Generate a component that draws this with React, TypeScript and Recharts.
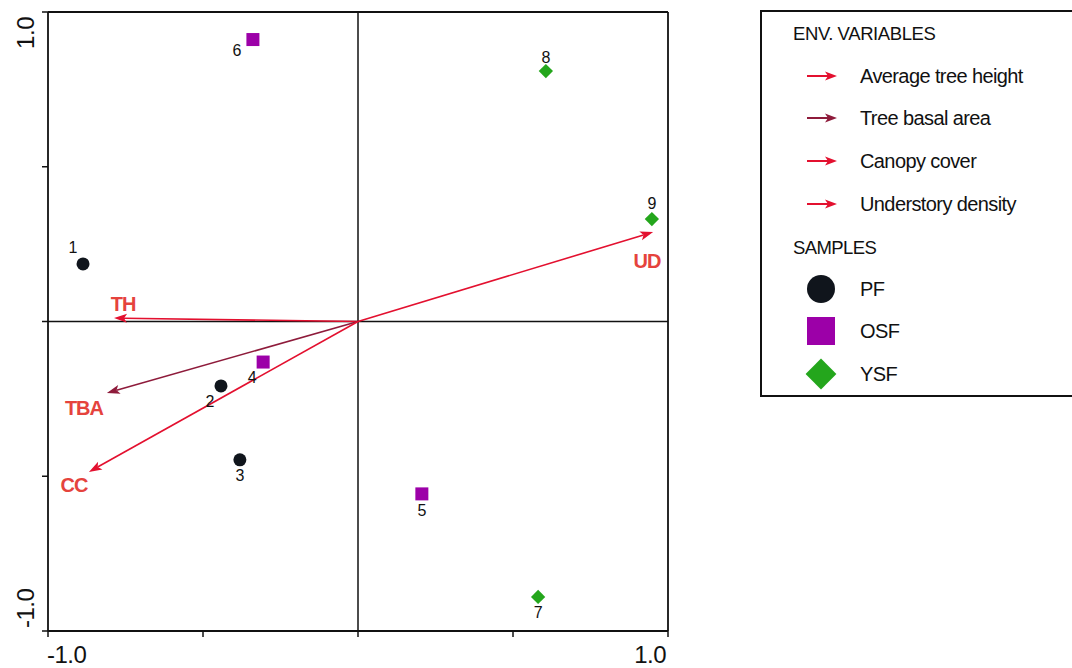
import React from 'react';
import { ScatterChart, Scatter, XAxis, YAxis, ReferenceLine } from 'recharts';

// ---- data ----
const sampleIds = ['1', '2', '3', '4', '5', '6', '7', '8', '9'];
const sampleGroups = ['PF', 'PF', 'PF', 'OSF', 'OSF', 'OSF', 'YSF', 'YSF', 'YSF'];
const sampleAxis1 = [-0.887, -0.442, -0.381, -0.306, 0.206, -0.339, 0.581, 0.606, 0.948];
const sampleAxis2 = [0.186, -0.208, -0.447, -0.131, -0.557, 0.911, -0.89, 0.809, 0.331];

const envCodes = ['TH', 'TBA', 'CC', 'UD'];
const envNames = ['Average tree height', 'Tree basal area', 'Canopy cover', 'Understory density'];
const envAxis1 = [-0.787, -0.81, -0.868, 0.952];
const envAxis2 = [0.011, -0.231, -0.486, 0.289];
const envLabelAxis1 = [-0.758, -0.884, -0.916, 0.932];
const envLabelAxis2 = [0.057, -0.279, -0.528, 0.195];

const groupNames = ['PF', 'OSF', 'YSF'];
const xTicks = [-1, -0.5, 0, 0.5, 1];
const yTicks = [-1, -0.5, 0, 0.5, 1];
const endTickLabels = { '-1': '-1.0', '1': '1.0' } as Record<string, string>;

// ---- styles / layout ----
const FONT = "'Liberation Sans', Arial, Helvetica, sans-serif";
const groupColors: Record<string, string> = { PF: '#10151c', OSF: '#9c00a8', YSF: '#24a61c' };
const envColors = ['#e3102f', '#8e1b3b', '#e3102f', '#e3102f'];
const envLabelColor = '#e5433d';
// sample label offsets (dx, dy of label centre from marker centre, px)
const labelOffsets: Record<string, [number, number]> = {
  '1': [-10, -17], '2': [-11, 15], '3': [0, 15], '4': [-11, 15], '5': [0, 16],
  '6': [-16, 10], '7': [0, 15], '8': [0, -14], '9': [0, -16],
};

const W = 1072;
const H = 668;

function Marker({ group, cx, cy, s }: { group: string; cx: number; cy: number; s: number }) {
  const c = groupColors[group];
  if (group === 'PF') return <circle cx={cx} cy={cy} r={s / 2} fill={c} />;
  if (group === 'OSF') return <rect x={cx - s / 2} y={cy - s / 2} width={s} height={s} fill={c} />;
  const h = s * 0.55;
  return <polygon points={`${cx},${cy - h} ${cx + h},${cy} ${cx},${cy + h} ${cx - h},${cy}`} fill={c} />;
}

function arrowShape(color: string) {
  return (props: any) => {
    const { x1, y1, x2, y2 } = props;
    if ([x1, y1, x2, y2].some((v) => typeof v !== 'number' || isNaN(v))) return <g />;
    const dx = x2 - x1;
    const dy = y2 - y1;
    const len = Math.sqrt(dx * dx + dy * dy) || 1;
    const ux = dx / len;
    const uy = dy / len;
    const hl = 13;
    const hw = 4.5;
    const bx = x2 - ux * hl;
    const by = y2 - uy * hl;
    const pts = `${x2},${y2} ${bx - uy * hw},${by + ux * hw} ${bx + ux * 3},${by + uy * 3} ${bx + uy * hw},${by - ux * hw}`;
    return (
      <g>
        <line x1={x1} y1={y1} x2={bx + ux * 3} y2={by + uy * 3} stroke={color} strokeWidth={1.6} />
        <polygon points={pts} fill={color} />
      </g>
    );
  };
}

function XTick(props: any) {
  const { x, y, payload } = props;
  const key = String(payload.value);
  const label = endTickLabels[key];
  if (!label) return <g />;
  return (
    <text x={payload.value < 0 ? x - 1 : x - 2} y={y + 24} textAnchor={payload.value < 0 ? 'start' : 'end'}
      fontFamily={FONT} fontSize={24} letterSpacing={-0.5} fill="#111">
      {label}
    </text>
  );
}

function YTick(props: any) {
  const { x, y, payload } = props;
  const key = String(payload.value);
  const label = endTickLabels[key];
  if (!label) return <g />;
  const bx = x - 6;
  const by = payload.value > 0 ? y + 5 : y - 3;
  return (
    <text x={bx} y={by} transform={`rotate(-90 ${bx} ${by})`} textAnchor={payload.value > 0 ? 'end' : 'start'}
      fontFamily={FONT} fontSize={24} letterSpacing={-0.5} fill="#111">
      {label}
    </text>
  );
}

function Legend() {
  const left = 761;
  const arrowX1 = 807;
  const arrowX2 = 837;
  const textX = 860;
  const envYs = [76, 118, 161, 204];
  const sampleYs = [289, 331, 374];
  return (
    <svg width={W} height={H} style={{ position: 'absolute', left: 0, top: 0, pointerEvents: 'none' }}>
      <rect x={left} y={11} width={W + 20 - left} height={385} fill="none" stroke="#111" strokeWidth={2} />
      <text x={793} y={40} fontFamily={FONT} fontSize={18.5} letterSpacing={-0.4} fill="#111">ENV. VARIABLES</text>
      {envNames.map((n, i) => {
        const y = envYs[i];
        const c = envColors[i];
        return (
          <g key={n}>
            <line x1={arrowX1} y1={y} x2={arrowX2 - 8} y2={y} stroke={c} strokeWidth={2} />
            <polygon points={`${arrowX2},${y} ${arrowX2 - 12},${y - 4.5} ${arrowX2 - 9},${y} ${arrowX2 - 12},${y + 4.5}`} fill={c} />
            <text x={textX} y={y + 7} fontFamily={FONT} fontSize={20} letterSpacing={-0.6} fill="#111">{n}</text>
          </g>
        );
      })}
      <text x={793} y={254} fontFamily={FONT} fontSize={18.5} letterSpacing={-0.6} fill="#111">SAMPLES</text>
      {groupNames.map((g, i) => (
        <g key={g}>
          <Marker group={g} cx={821} cy={sampleYs[i]} s={28} />
          <text x={textX} y={sampleYs[i] + 7} fontFamily={FONT} fontSize={20} letterSpacing={-0.6} fill="#111">{g}</text>
        </g>
      ))}
    </svg>
  );
}

export default function App() {
  const sampleData = sampleIds.map((id, i) => ({ id, group: sampleGroups[i], x: sampleAxis1[i], y: sampleAxis2[i] }));
  const envLabelData = envCodes.map((code, i) => ({ code, x: envLabelAxis1[i], y: envLabelAxis2[i] }));

  const sampleShape = (props: any) => {
    const { cx, cy, payload } = props;
    const [dx, dy] = labelOffsets[payload.id];
    return (
      <g>
        <Marker group={payload.group} cx={cx} cy={cy} s={13} />
        <text x={cx + dx} y={cy + dy + 6} textAnchor="middle" fontFamily={FONT} fontSize={16} fill="#111">{payload.id}</text>
      </g>
    );
  };

  const envLabelShape = (props: any) => {
    const { cx, cy, payload } = props;
    return (
      <text x={cx} y={cy + 7} textAnchor="middle" fontFamily={FONT} fontSize={20} fontWeight="bold"
        letterSpacing={-1} fill={envLabelColor}>
        {payload.code}
      </text>
    );
  };

  return (
    <div style={{ position: 'absolute', left: 0, top: 0, width: W, height: H, background: '#fff' }}>
      <ScatterChart width={W} height={H} margin={{ top: 12, right: W - 668, bottom: 0, left: 0 }}>
        <XAxis type="number" dataKey="x" domain={[-1, 1]} ticks={xTicks} interval={0} allowDataOverflow
          height={37} tick={<XTick />} tickSize={6}
          axisLine={{ stroke: '#111', strokeWidth: 1.8 }} tickLine={{ stroke: '#111', strokeWidth: 1.5 }} />
        <YAxis type="number" dataKey="y" domain={[-1, 1]} ticks={yTicks} interval={0} allowDataOverflow
          width={48} tick={<YTick />} tickSize={6}
          axisLine={{ stroke: '#111', strokeWidth: 1.8 }} tickLine={{ stroke: '#111', strokeWidth: 1.5 }} />
        <ReferenceLine y={1} stroke="#111" strokeWidth={1.8} ifOverflow="visible" />
        <ReferenceLine x={1} stroke="#111" strokeWidth={1.8} ifOverflow="visible" />
        <ReferenceLine y={0} stroke="#111" strokeWidth={1.5} />
        <ReferenceLine x={0} stroke="#111" strokeWidth={1.5} />
        {envCodes.map((code, i) => (
          <ReferenceLine key={code} segment={[{ x: 0, y: 0 }, { x: envAxis1[i], y: envAxis2[i] }]}
            stroke={envColors[i]} shape={arrowShape(envColors[i])} />
        ))}
        {groupNames.map((g) => (
          <Scatter key={g} name={g} data={sampleData.filter((d) => d.group === g)} shape={sampleShape}
            isAnimationActive={false} />
        ))}
        <Scatter name="env-labels" data={envLabelData} shape={envLabelShape} isAnimationActive={false} />
      </ScatterChart>
      <Legend />
    </div>
  );
}
